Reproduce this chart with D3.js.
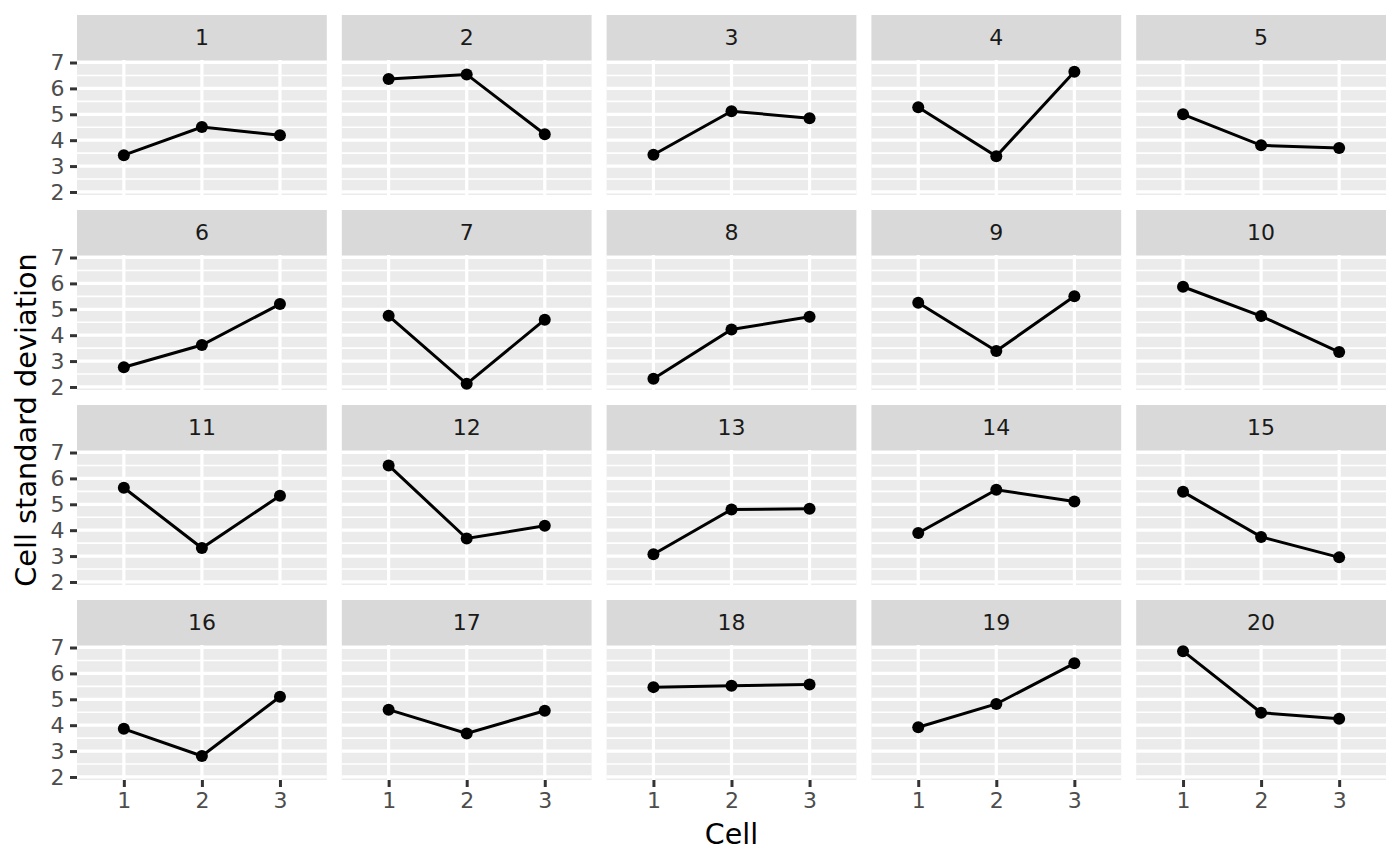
<!DOCTYPE html>
<html>
<head>
<meta charset="utf-8">
<script src="https://cdn.jsdelivr.net/npm/d3@7"></script>
<style>
  html, body { margin: 0; padding: 0; background: #fff; }
  svg { display: block; font-family: "DejaVu Sans", sans-serif; }
</style>
</head>
<body>
<svg id="chart" width="1400" height="865"></svg>
<script>
// ---- data ----
const panels = d3.range(1, 21);           // facet labels 1..20
const cells = [1, 2, 3];                  // x categories
const cell1 = [3.42, 6.36, 3.44, 5.27, 5.00, 2.76, 4.75, 2.32, 5.25, 5.87, 5.64, 6.50, 3.07, 3.89, 5.48, 3.86, 4.60, 5.47, 3.92, 6.86];
const cell2 = [4.51, 6.54, 5.12, 3.38, 3.80, 3.62, 2.12, 4.22, 3.39, 4.74, 3.31, 3.68, 4.80, 5.56, 3.74, 2.81, 3.68, 5.52, 4.82, 4.48];
const cell3 = [4.19, 4.23, 4.85, 6.64, 3.70, 5.20, 4.60, 4.71, 5.50, 3.35, 5.33, 4.17, 4.83, 5.11, 2.95, 5.10, 4.56, 5.57, 6.39, 4.25];
const yTicks = [2, 3, 4, 5, 6, 7];
const yMinor = [2.5, 3.5, 4.5, 5.5, 6.5];
const xLabel = "Cell";
const yLabel = "Cell standard deviation";

const series = [cell1, cell2, cell3];
const facetRows = panels.map((p, i) => ({
  panel: p,
  pts: cells.map((c, j) => ({ cell: c, sd: series[j][i] }))
}));

// ---- layout ----
const svg = d3.select("#chart");
const ncol = 5, nrow = 4;
const L = 77, R = 1386, T = 15, B = 780;
const gapX = 15, gapY = 15, stripH = 45;
const pw = (R - L - gapX * (ncol - 1)) / ncol;
const ph = (B - T - gapY * (nrow - 1)) / nrow - stripH;

const all = series.flat();
const [mn, mx] = d3.extent(all);
const pad = (mx - mn) * 0.05;
const y = d3.scaleLinear().domain([mn - pad, mx + pad]).range([ph, 0]);
const x = d3.scaleLinear().domain([0.4, 3.6]).range([0, pw]);

const line = d3.line().x(d => x(d.cell)).y(d => y(d.sd));

facetRows.forEach((r, i) => {
  const col = i % ncol, row = Math.floor(i / ncol);
  const gx = L + col * (pw + gapX);
  const gy = T + row * (ph + stripH + gapY);
  const g = svg.append("g").attr("transform", `translate(${gx},${gy})`);

  // strip
  g.append("rect").attr("width", pw).attr("height", stripH).attr("fill", "#D9D9D9");
  g.append("text").attr("x", pw / 2).attr("y", stripH / 2)
    .attr("text-anchor", "middle").attr("dy", "0.36em")
    .attr("font-size", 22).attr("fill", "#1A1A1A").text(r.panel);

  const p = g.append("g").attr("transform", `translate(0,${stripH})`);
  p.append("rect").attr("width", pw).attr("height", ph).attr("fill", "#EBEBEB");

  // grid
  p.selectAll(".minor").data(yMinor).join("line").attr("class", "minor")
    .attr("x1", 0).attr("x2", pw).attr("y1", d => y(d)).attr("y2", d => y(d))
    .attr("stroke", "#fff").attr("stroke-width", 1.6);
  p.selectAll(".majorY").data(yTicks).join("line").attr("class", "majorY")
    .attr("x1", 0).attr("x2", pw).attr("y1", d => y(d)).attr("y2", d => y(d))
    .attr("stroke", "#fff").attr("stroke-width", 3.2);
  p.selectAll(".majorX").data(cells).join("line").attr("class", "majorX")
    .attr("y1", 0).attr("y2", ph).attr("x1", d => x(d)).attr("x2", d => x(d))
    .attr("stroke", "#fff").attr("stroke-width", 3.2);

  // data
  p.append("path").datum(r.pts).attr("d", line)
    .attr("fill", "none").attr("stroke", "#000").attr("stroke-width", 3);
  p.selectAll("circle").data(r.pts).join("circle")
    .attr("cx", d => x(d.cell)).attr("cy", d => y(d.sd)).attr("r", 6).attr("fill", "#000");

  // axes
  if (col === 0) {
    const ay = p.append("g").call(d3.axisLeft(y).tickValues(yTicks).tickFormat(d3.format("d")).tickSize(7).tickPadding(5.5));
    ay.select(".domain").remove();
    ay.selectAll(".tick line").attr("stroke", "#333333").attr("stroke-width", 3);
    ay.selectAll(".tick text").attr("font-size", 22).attr("fill", "#4D4D4D")
      .attr("font-family", "DejaVu Sans, sans-serif");
  }
  if (row === nrow - 1) {
    const ax = p.append("g").attr("transform", `translate(0,${ph})`)
      .call(d3.axisBottom(x).tickValues(cells).tickFormat(d3.format("d")).tickSize(7).tickPadding(5.5));
    ax.select(".domain").remove();
    ax.selectAll(".tick line").attr("stroke", "#333333").attr("stroke-width", 3);
    ax.selectAll(".tick text").attr("font-size", 22).attr("fill", "#4D4D4D")
      .attr("font-family", "DejaVu Sans, sans-serif");
  }
});

// axis titles
svg.append("text").attr("x", (L + R) / 2).attr("y", 844)
  .attr("text-anchor", "middle").attr("font-size", 28.5).attr("fill", "#000").text(xLabel);
svg.append("text").attr("transform", `translate(35.5,${(T + stripH + B) / 2}) rotate(-90)`)
  .attr("text-anchor", "middle").attr("font-size", 28.8).attr("fill", "#000").text(yLabel);
</script>
</body>
</html>
